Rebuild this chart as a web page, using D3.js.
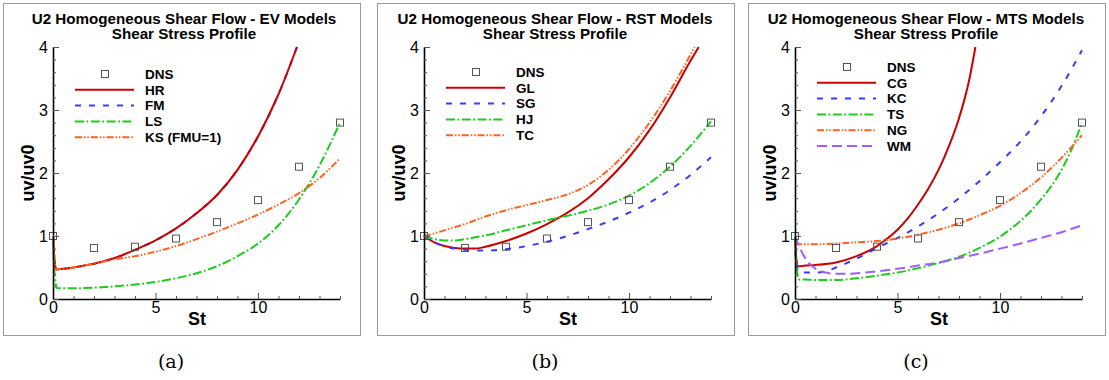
<!DOCTYPE html>
<html>
<head>
<meta charset="utf-8">
<script src="https://cdn.jsdelivr.net/npm/d3@7"></script>
<style>
  html, body { margin: 0; padding: 0; background: #fff; }
  svg { display: block; }
</style>
</head>
<body>
<svg id="chart" width="1109" height="380" font-family="'Liberation Sans', Arial, sans-serif"></svg>
<script>
// ---------- DATA ----------
const dnsSt = [0, 2, 4, 6, 8, 10, 12, 14];
const dnsUV = [1.0, 0.81, 0.83, 0.96, 1.22, 1.57, 2.1, 2.8];

const xTicks = [0, 5, 10];
const yTicks = [0, 1, 2, 3, 4];

// Panel (a) EV models
const hrSt = [0, 0.05, 0.15, 0.5, 1, 1.5, 2, 3, 4, 5, 6, 7, 8, 9, 10, 11, 11.9];
const hrUV = [1.0, 0.72, 0.47, 0.48, 0.50, 0.53, 0.56, 0.65, 0.78, 0.93, 1.12, 1.36, 1.65, 2.05, 2.58, 3.25, 4.0];
const fmSt = hrSt;
const fmUV = [1.0, 0.72, 0.47, 0.48, 0.50, 0.53, 0.56, 0.65, 0.78, 0.93, 1.12, 1.36, 1.65, 2.05, 2.58, 3.25, 4.0];
const lsSt = [0, 0.05, 0.2, 0.5, 1, 2, 3, 4, 5, 6, 7, 8, 9, 10, 11, 12, 13, 14];
const lsUV = [1.0, 0.5, 0.17, 0.17, 0.17, 0.18, 0.2, 0.23, 0.27, 0.33, 0.41, 0.52, 0.68, 0.88, 1.17, 1.58, 2.12, 2.8];
const ksSt = [0, 0.05, 0.15, 0.5, 1, 1.5, 2, 3, 4, 5, 6, 7, 8, 9, 10, 11, 12, 13, 14];
const ksUV = [1.0, 0.72, 0.47, 0.48, 0.50, 0.53, 0.56, 0.63, 0.68, 0.75, 0.84, 0.95, 1.07, 1.2, 1.34, 1.5, 1.68, 1.92, 2.23];

// Panel (b) RST models
const glSt = [0, 0.5, 1, 1.5, 2, 2.5, 3, 4, 5, 6, 7, 8, 9, 10, 11, 12, 13, 13.4];
const glUV = [1.0, 0.9, 0.84, 0.81, 0.8, 0.8, 0.83, 0.92, 1.04, 1.19, 1.37, 1.6, 1.9, 2.25, 2.68, 3.2, 3.78, 4.0];
const sgSt = [0, 0.5, 1, 1.5, 2, 2.5, 3, 4, 5, 6, 7, 8, 9, 10, 11, 12, 13, 14];
const sgUV = [1.0, 0.9, 0.84, 0.8, 0.78, 0.77, 0.77, 0.79, 0.84, 0.91, 1.0, 1.11, 1.23, 1.37, 1.53, 1.73, 1.97, 2.25];
const hjSt = sgSt;
const hjUV = [1.0, 0.95, 0.93, 0.93, 0.95, 0.98, 1.01, 1.09, 1.17, 1.25, 1.32, 1.4, 1.5, 1.64, 1.84, 2.1, 2.43, 2.82];
const tcSt = [0, 0.5, 1, 2, 3, 4, 5, 6, 7, 8, 9, 10, 11, 12, 13, 13.2];
const tcUV = [1.0, 1.04, 1.09, 1.19, 1.31, 1.41, 1.49, 1.57, 1.66, 1.81, 2.05, 2.38, 2.8, 3.3, 3.88, 4.0];

// Panel (c) MTS models
const cgSt = [0, 0.05, 0.15, 0.5, 1, 2, 3, 4, 4.5, 5, 5.5, 6, 6.5, 7, 7.5, 8, 8.5, 8.8];
const cgUV = [1.0, 0.7, 0.52, 0.53, 0.54, 0.58, 0.68, 0.84, 0.96, 1.1, 1.28, 1.5, 1.75, 2.05, 2.42, 2.87, 3.48, 4.0];
const kcSt = [0, 0.05, 0.2, 0.5, 1, 1.5, 2, 3, 4, 5, 6, 7, 8, 9, 10, 11, 12, 13, 14];
const kcUV = [1.0, 0.6, 0.42, 0.42, 0.42, 0.44, 0.5, 0.64, 0.81, 0.97, 1.15, 1.36, 1.6, 1.87, 2.17, 2.5, 2.9, 3.38, 3.95];
const tsSt = [0, 0.05, 0.2, 0.5, 1, 2, 3, 4, 5, 6, 7, 8, 9, 10, 11, 12, 13, 13.5, 14];
const tsUV = [1.0, 0.6, 0.31, 0.31, 0.3, 0.3, 0.33, 0.37, 0.42, 0.49, 0.57, 0.67, 0.81, 0.99, 1.24, 1.58, 2.05, 2.38, 2.8];
const ngSt = [0, 1, 2, 3, 4, 5, 6, 7, 8, 9, 10, 11, 12, 13, 14];
const ngUV = [0.87, 0.87, 0.88, 0.9, 0.92, 0.96, 1.02, 1.1, 1.2, 1.33, 1.48, 1.68, 1.93, 2.24, 2.6];
const wmSt = [0, 0.25, 0.5, 1, 1.5, 2, 2.5, 3, 4, 5, 6, 7, 8, 9, 10, 11, 12, 13, 14];
const wmUV = [1.0, 0.8, 0.65, 0.48, 0.42, 0.40, 0.40, 0.41, 0.44, 0.48, 0.53, 0.58, 0.65, 0.72, 0.8, 0.88, 0.97, 1.06, 1.17];

const titles = [
  "U2 Homogeneous Shear Flow - EV Models",
  "U2 Homogeneous Shear Flow - RST Models",
  "U2 Homogeneous Shear Flow - MTS Models"
];
const subtitle = "Shear Stress Profile";
const captions = ["(a)", "(b)", "(c)"];

// ---------- STYLES ----------
const STY = {
  red:    { color: "#cc0000", dash: null },
  blue:   { color: "#3a3aff", dash: "6,8" },
  green:  { color: "#1ecc1e", dash: "9,2.5,1.8,2.5" },
  orange: { color: "#ff6220", dash: "7,2,1.5,1.8,1.5,2" },
  purple: { color: "#a25cff", dash: "10,5" }
};

const panels = [
  { frameX: 3, ox: 53, legTop: 74, series: [
    { name: "HR", st: hrSt, uv: hrUV, s: STY.red },
    { name: "FM", st: fmSt, uv: fmUV, s: STY.blue },
    { name: "LS", st: lsSt, uv: lsUV, s: STY.green },
    { name: "KS (FMU=1)", st: ksSt, uv: ksUV, s: STY.orange }
  ], drawOrder: [1, 0, 2, 3] },
  { frameX: 377, ox: 424, legTop: 72, series: [
    { name: "GL", st: glSt, uv: glUV, s: STY.red },
    { name: "SG", st: sgSt, uv: sgUV, s: STY.blue },
    { name: "HJ", st: hjSt, uv: hjUV, s: STY.green },
    { name: "TC", st: tcSt, uv: tcUV, s: STY.orange }
  ], drawOrder: [0, 1, 2, 3] },
  { frameX: 748, ox: 795, legTop: 67, series: [
    { name: "CG", st: cgSt, uv: cgUV, s: STY.red },
    { name: "KC", st: kcSt, uv: kcUV, s: STY.blue },
    { name: "TS", st: tsSt, uv: tsUV, s: STY.green },
    { name: "NG", st: ngSt, uv: ngUV, s: STY.orange },
    { name: "WM", st: wmSt, uv: wmUV, s: STY.purple }
  ], drawOrder: [0, 1, 2, 3, 4] }
];

// ---------- DRAW ----------
const svg = d3.select("#chart");
const frameY = 3, frameW = 357, frameH = 332;
const yBottom = 299, yTop = 47, xLen = 287;
const legSpacing = 15.8;
const SANS = "'Liberation Sans', Arial, sans-serif";

panels.forEach((p, i) => {
  const g = svg.append("g");
  g.append("rect")
    .attr("x", p.frameX + 0.5).attr("y", frameY + 0.5)
    .attr("width", frameW).attr("height", frameH)
    .attr("fill", "none").attr("stroke", "#9a9a9a").attr("stroke-width", 1);

  const x = d3.scaleLinear().domain([0, 14]).range([p.ox, p.ox + xLen]);
  const y = d3.scaleLinear().domain([0, 4]).range([yBottom, yTop]);

  // titles
  const cx = p.ox + 131;
  g.append("text").attr("x", cx).attr("y", 24).attr("text-anchor", "middle")
    .attr("font-size", 15.2).attr("font-weight", "bold").attr("fill", "#000").text(titles[i]);
  g.append("text").attr("x", cx).attr("y", 39).attr("text-anchor", "middle")
    .attr("font-size", 15.2).attr("font-weight", "bold").attr("fill", "#000").text(subtitle);

  // clip
  const clipId = "clip" + i;
  svg.append("clipPath").attr("id", clipId).append("rect")
    .attr("x", p.ox - 2).attr("y", yTop - 1).attr("width", xLen + 4).attr("height", yBottom - yTop + 2);

  const line = d3.line().x(d => x(d[0])).y(d => y(d[1])).curve(d3.curveMonotoneX);
  const plot = g.append("g").attr("clip-path", `url(#${clipId})`);
  p.drawOrder.forEach(k => {
    const s = p.series[k];
    plot.append("path")
      .datum(s.st.map((v, j) => [v, s.uv[j]]))
      .attr("d", line)
      .attr("fill", "none")
      .attr("stroke", s.s.color)
      .attr("stroke-width", 2)
      .attr("stroke-dasharray", s.s.dash);
  });

  // DNS squares
  g.append("g").selectAll("rect").data(dnsSt.map((v, j) => [v, dnsUV[j]])).join("rect")
    .attr("x", d => x(d[0]) - 3.5).attr("y", d => y(d[1]) - 3.5)
    .attr("width", 7).attr("height", 7)
    .attr("fill", "none").attr("stroke", "#555").attr("stroke-width", 1);

  // axes
  const xMinor = d3.range(0, 15).filter(v => !xTicks.includes(v));
  const yMinor = d3.range(0, 21).map(v => v / 5).filter(v => Math.abs(v - Math.round(v)) > 1e-6);
  const xAxis = g.append("g").attr("transform", `translate(0,${yBottom})`)
    .call(d3.axisBottom(x).tickValues(xTicks).tickSizeInner(-6).tickSizeOuter(0).tickPadding(3).tickFormat(d3.format("d")));
  g.append("g").attr("transform", `translate(0,${yBottom})`)
    .call(d3.axisBottom(x).tickValues(xMinor).tickSizeInner(-3).tickSizeOuter(0).tickFormat(""))
    .call(a => a.select(".domain").remove());
  const yAxis = g.append("g").attr("transform", `translate(${p.ox},0)`)
    .call(d3.axisLeft(y).tickValues(yTicks).tickSizeInner(-6).tickSizeOuter(0).tickPadding(5).tickFormat(d3.format("d")));
  g.append("g").attr("transform", `translate(${p.ox},0)`)
    .call(d3.axisLeft(y).tickValues(yMinor).tickSizeInner(-3).tickSizeOuter(0).tickFormat(""))
    .call(a => a.select(".domain").remove());
  g.selectAll(".domain").attr("stroke", "#000").attr("stroke-width", 1.6);
  g.selectAll(".tick line").attr("stroke", "#555").attr("stroke-width", 1);
  [xAxis, yAxis].forEach(a => a.selectAll("text")
    .attr("font-family", SANS)
    .attr("font-size", 16).attr("fill", "#000"));

  // axis titles
  g.append("text").attr("x", p.ox + 144).attr("y", 325).attr("text-anchor", "middle")
    .attr("font-size", 18).attr("font-weight", "bold").text("St");
  g.append("text").attr("transform", `translate(${p.ox - 19},173) rotate(-90)`)
    .attr("text-anchor", "middle").attr("font-size", 18).attr("font-weight", "bold").text("uv/uv0");

  // legend
  const lg = g.append("g");
  const lx0 = p.ox + 22, lx1 = p.ox + 81, tx = p.ox + 92;
  lg.append("rect").attr("x", p.ox + 52 - 3.5).attr("y", p.legTop - 3.5).attr("width", 7).attr("height", 7)
    .attr("fill", "none").attr("stroke", "#555").attr("stroke-width", 1);
  lg.append("text").attr("x", tx).attr("y", p.legTop).attr("dy", "0.36em")
    .attr("font-size", 13.5).attr("font-weight", "bold").text("DNS");
  p.series.forEach((s, k) => {
    const yy = p.legTop + legSpacing * (k + 1);
    lg.append("line").attr("x1", lx0).attr("x2", lx1).attr("y1", yy).attr("y2", yy)
      .attr("stroke", s.s.color).attr("stroke-width", 2).attr("stroke-dasharray", s.s.dash);
    lg.append("text").attr("x", tx).attr("y", yy).attr("dy", "0.36em")
      .attr("font-size", 13.5).attr("font-weight", "bold").text(s.name);
  });

  // caption
  svg.append("text").attr("x", p.frameX + 168).attr("y", 368).attr("text-anchor", "middle")
    .attr("font-family", "'DejaVu Serif', 'Liberation Serif', serif").attr("font-size", 19)
    .text(captions[i]);
});
</script>
</body>
</html>
